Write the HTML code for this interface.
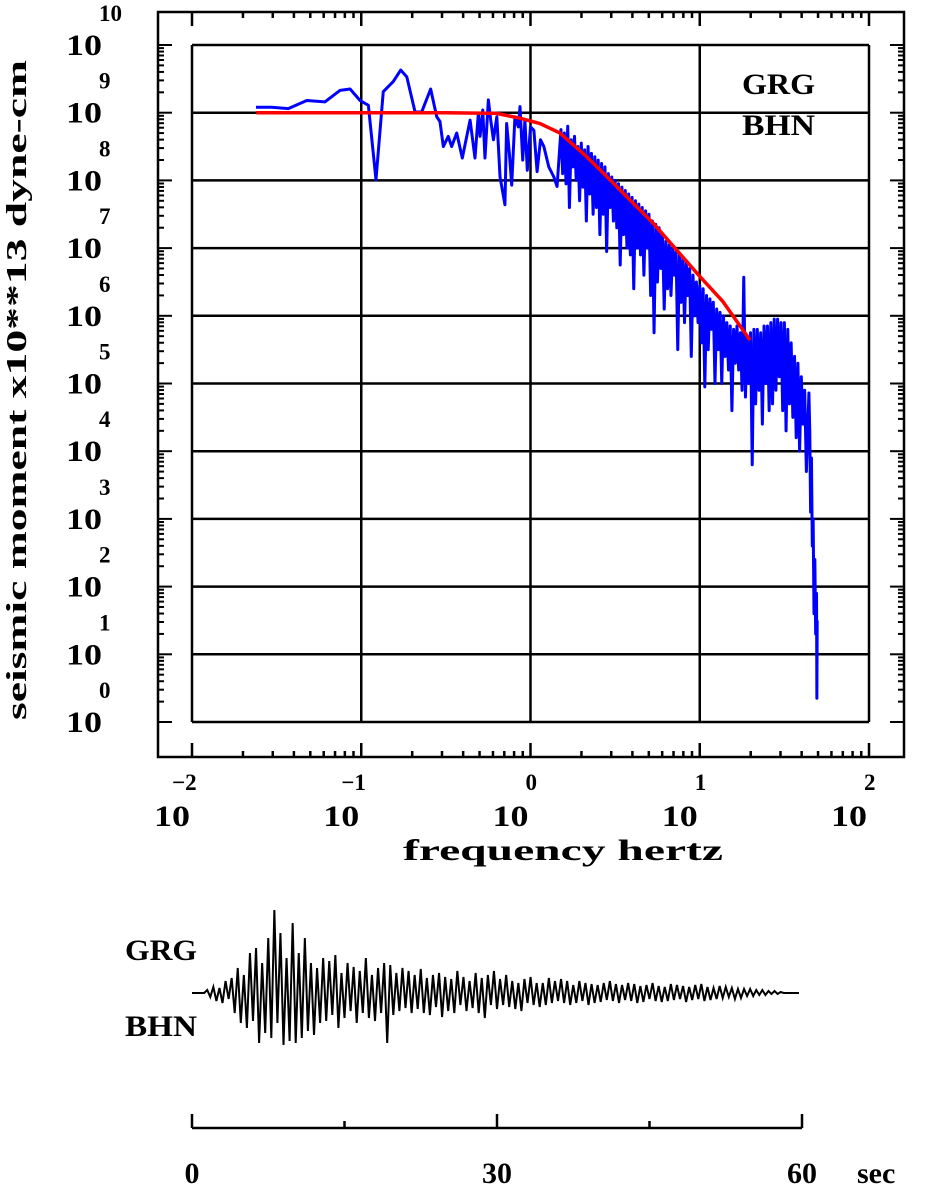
<!DOCTYPE html>
<html><head><meta charset="utf-8"><style>
html,body{margin:0;padding:0;background:#fff;width:928px;height:1184px;overflow:hidden}
svg text{font-family:"Liberation Serif",serif;font-weight:bold;fill:#000}
</style></head><body>
<svg id="chart" width="928" height="1184" viewBox="0 0 928 1184" xmlns="http://www.w3.org/2000/svg">
<g id="grid"></g>
<g id="frame"></g>
<g id="labels"></g>
<text transform="translate(26,390) rotate(-90)" text-anchor="middle" font-size="29" textLength="660" lengthAdjust="spacingAndGlyphs">seismic moment x10**13 dyne-cm</text>
<text x="403" y="860" font-size="30" textLength="320" lengthAdjust="spacingAndGlyphs">frequency  hertz</text>
<text x="742" y="94" font-size="30" textLength="73" lengthAdjust="spacingAndGlyphs">GRG</text>
<text x="742" y="135" font-size="30" textLength="73" lengthAdjust="spacingAndGlyphs">BHN</text>
<g id="series"></g>
<text x="125" y="960" font-size="30" textLength="72" lengthAdjust="spacingAndGlyphs">GRG</text>
<text x="125" y="1036" font-size="30" textLength="72" lengthAdjust="spacingAndGlyphs">BHN</text>
<g id="wave"></g>
</svg>
<script>
const specLogF=[-1.622,-1.529,-1.431,-1.322,-1.214,-1.125,-1.066,-1.007,-0.958,-0.913,-0.870,-0.811,-0.767,-0.731,-0.682,-0.643,-0.590,-0.554,-0.535,-0.515,-0.486,-0.466,-0.436,-0.403,-0.357,-0.328,-0.308,-0.298,-0.282,-0.269,-0.249,-0.235,-0.219,-0.199,-0.180,-0.151,-0.141,-0.125,-0.111,-0.092,-0.072,-0.062,-0.046,-0.033,-0.019,0.000,0.020,0.039,0.059,0.079,0.108,0.138,0.157,
0.18,0.19,0.20,0.21,0.22,0.23,0.24,0.25,0.26,0.27,0.28,0.29,0.30,
0.31,0.32,0.33,0.34,0.35,0.36,0.37,0.38,0.39,0.40,
0.41,0.42,0.43,0.44,0.45,0.46,0.47,0.48,0.49,0.50,
0.51,0.52,0.53,0.54,0.55,0.56,0.57,0.58,0.59,0.60,
0.61,0.62,0.63,0.64,0.65,0.66,0.67,0.68,0.69,0.70,
0.71,0.72,0.73,0.74,0.75,0.76,0.77,0.78,0.79,0.80,
0.81,0.82,0.83,0.84,0.85,0.86,0.87,0.88,0.89,0.90,
0.91,0.92,0.93,0.94,0.95,0.96,0.97,0.98,0.99,1.00,
1.01,1.02,1.03,1.04,1.05,1.06,1.07,1.08,1.09,1.10,
1.11,1.12,1.13,1.14,1.15,1.16,1.17,1.18,1.19,1.20,
1.21,1.22,1.23,1.24,1.25,1.26,1.27,1.28,1.29,1.30,
1.31,1.32,1.33,1.34,1.35,1.36,1.37,1.38,1.39,1.40,
1.41,1.42,1.43,1.44,1.45,1.46,1.47,1.48,1.49,1.50,
1.51,1.52,1.53,1.54,1.55,1.56,1.57,1.58,1.59,1.60,
1.61,1.62,1.63,1.645,
1.650,1.655,1.660,1.665,1.670,1.675,1.680,1.685,1.690,1.692,1.694];
const specLogM=[9.08,9.08,9.06,9.18,9.16,9.33,9.35,9.18,9.11,8.01,9.31,9.46,9.63,9.53,9.01,9.01,9.35,8.94,8.87,8.50,8.65,8.50,8.70,8.33,8.89,8.33,8.99,8.65,9.04,8.33,9.19,8.89,8.60,8.94,8.05,7.64,8.84,8.40,7.93,8.94,8.79,9.09,8.30,8.89,8.15,8.79,8.74,8.13,8.60,8.50,8.20,8.05,7.91,
8.75,8.1,8.7,7.95,8.8,7.6,8.6,8.2,8.65,8.0,8.5,7.7,8.55,
7.9,8.45,7.4,8.5,7.8,8.4,7.5,8.35,7.6,8.3,
7.2,8.25,7.5,8.2,6.95,8.1,7.6,8.05,7.4,8.0,
7.3,7.95,6.75,7.9,7.2,7.85,7.0,7.8,6.9,7.75,
6.4,7.7,7.0,7.65,6.9,7.6,6.6,7.55,7.0,7.5,
6.3,7.4,5.75,7.35,6.5,7.3,6.7,7.2,6.1,7.1,
6.4,7.05,6.3,7.0,6.6,6.95,5.5,6.9,6.2,6.85,
5.9,6.8,6.3,6.7,5.4,6.6,6.0,6.5,5.9,6.45,
5.6,6.4,4.95,6.3,5.5,6.25,5.8,6.2,5.0,6.1,
5.5,6.05,5.0,6.0,5.4,5.9,5.2,5.85,4.6,5.8,
5.3,5.85,5.2,5.75,4.9,6.57,4.8,5.7,5.0,5.75,
3.8,5.8,4.7,5.8,4.9,5.75,4.4,5.85,5.0,5.85,
4.6,5.9,4.7,5.95,4.9,5.95,5.1,5.9,4.6,5.9,
4.3,5.8,4.7,5.6,4.5,5.4,4.2,5.3,4.0,5.1,
4.4,4.9,3.7,4.86,
4.3,3.1,3.9,2.6,3.0,1.6,2.4,1.3,1.9,0.35,1.5];
const modelLogF=[-1.62,-0.5,-0.2,-0.065,0.056,0.174,0.332,0.470,0.588,0.724,0.864,1.001,1.137,1.297];
const modelLogM=[9.0,9.0,8.99,8.92,8.84,8.70,8.35,8.01,7.71,7.37,6.97,6.58,6.21,5.64];
const xDecades=[-2,-1,0,1,2];
const yDecades=[0,1,2,3,4,5,6,7,8,9,10];
const waveStart=0.0, waveStep=0.3;
const waveAmp=[0,0,0,0,
0,3,-4,6,-8,5,-10,12,-6,15,
-20,25,-30,18,-35,40,-28,45,-50,30,
-40,55,-45,83,-30,60,-52,35,-48,70,
-50,40,-45,55,-38,30,-42,25,-30,35,
-28,32,-22,38,-35,20,-25,30,-18,26,
-30,22,-20,35,-25,18,-28,25,-20,30,
-50,28,-22,20,-18,25,-15,22,-20,18,
-16,24,-20,15,-22,18,-14,20,-24,16,
-18,14,-20,22,-12,16,-18,12,-15,20,
-20,15,-25,18,-12,22,-16,14,-12,18,
-14,12,-16,10,-18,14,-10,16,-12,10,
-14,10,-12,15,-10,12,-8,14,-10,12,
-12,8,-10,12,-8,10,-12,9,-10,8,
-9,10,-7,12,-8,9,-10,8,-7,10,
-8,9,-10,7,-9,8,-6,10,-8,7,
-9,6,-8,9,-7,8,-6,7,-9,6,
-7,8,-6,9,-8,6,-7,5,-6,7,
-5,6,-4,5,-6,4,-5,4,-3,4,
-3,3,-2,3,-2,2,-1,2,-1,1,
0,0,0,0,0,0];
const timeTicks=[0,15,30,45,60];
const timeLabels=["0","30","60"];

const NS="http://www.w3.org/2000/svg";
const X0=192,X1=869,Y0=45,Y1=722;
const sx=v=>X0+(v+2)*(X1-X0)/4;
const sy=v=>Y1-v*(Y1-Y0)/10;
const tx=t=>192+t*(802-192)/60;
const wy=a=>993-a;
function mk(tag,attrs,parent){const e=document.createElementNS(NS,tag);for(const k in attrs)e.setAttribute(k,attrs[k]);parent.appendChild(e);return e;}
const grid=document.getElementById('grid'),frame=document.getElementById('frame'),labels=document.getElementById('labels'),series=document.getElementById('series'),wave=document.getElementById('wave');
yDecades.forEach(d=>{const l=mk('line',{x1:X0,x2:X1,y1:sy(d),y2:sy(d),stroke:'#000','stroke-width':2.5},grid);

});
xDecades.forEach(d=>{const l=mk('line',{x1:sx(d),x2:sx(d),y1:Y0,y2:Y1,stroke:'#000','stroke-width':2.5},grid);

});
const fr=mk('path',{d:'M158,757 V12 H904 V757 Z',fill:'none',stroke:'#000','stroke-width':2.5},frame);


for(let d=-2;d<=2;d++){for(let m=1;m<=9;m++){if(d==2&&m>1)break;const v=d+Math.log10(m);const x=sx(v);const L=m==1?14:6;
mk('line',{x1:x,x2:x,y1:757,y2:757-L,stroke:'#000','stroke-width':2.5},frame);
mk('line',{x1:x,x2:x,y1:12,y2:12+L,stroke:'#000','stroke-width':2.5},frame);}}
for(let d=0;d<=10;d++){for(let m=1;m<=9;m++){if(d==10&&m>1)break;const v=d+Math.log10(m);const y=sy(v);const L=m==1?14:6;
mk('line',{x1:158,x2:158+L,y1:y,y2:y,stroke:'#000','stroke-width':2},frame);
mk('line',{x1:904,x2:904-L,y1:y,y2:y,stroke:'#000','stroke-width':2},frame);}}
yDecades.forEach(d=>{const y=sy(d);
const t=mk('text',{x:66,y:y+10,'font-size':30,textLength:36,lengthAdjust:'spacingAndGlyphs'},labels);t.textContent='10';


const e=mk('text',{x:99,y:y-24,'font-size':23},labels);e.textContent=String(d);

});
xDecades.forEach(d=>{const x=sx(d);
const t=mk('text',{x:x-2,y:826,'font-size':30,'text-anchor':'end',textLength:36,lengthAdjust:'spacingAndGlyphs'},labels);t.textContent='10';


const e=mk('text',{x:x-(d<0?20:5),y:790,'font-size':23},labels);e.textContent=d<0?'\u2212'+(-d):String(d);

});
const bp=mk('polyline',{points:specLogF.map((f,i)=>sx(f)+','+sy(specLogM[i])).join(' '),fill:'none',stroke:'#0000ff','stroke-width':3,'stroke-linejoin':'round'},series);


const rp=mk('polyline',{points:modelLogF.map((f,i)=>sx(f)+','+sy(modelLogM[i])).join(' '),fill:'none',stroke:'#ff0000','stroke-width':3.5,'stroke-linejoin':'round'},series);


const wp=mk('polyline',{points:waveAmp.map((a,i)=>tx(waveStart+i*waveStep)+','+wy(a)).join(' '),fill:'none',stroke:'#000','stroke-width':2},wave);


const ax=mk('line',{x1:tx(0),x2:tx(60),y1:1128,y2:1128,stroke:'#000','stroke-width':2.5},wave);


timeTicks.forEach((t,i)=>{const L=i%2==0?14:7;const l=mk('line',{x1:tx(t),x2:tx(t),y1:1128,y2:1128-L,stroke:'#000','stroke-width':2.5},wave);

});
timeLabels.forEach((s,i)=>{const t=mk('text',{x:tx(i*30),y:1183,'font-size':30,'text-anchor':'middle'},wave);t.textContent=s;

});
const sec=mk('text',{x:857,y:1183,'font-size':30},wave);sec.textContent='sec';


</script>
</body></html>
